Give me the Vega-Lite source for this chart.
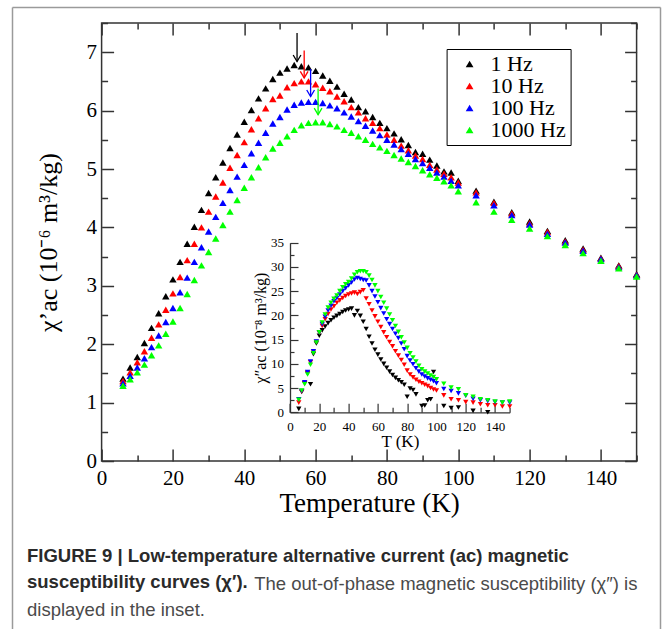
{
  "$schema": "https://vega.github.io/schema/vega-lite/v6.json",
  "width": 535,
  "height": 438,
  "autosize": {"type": "none"},
  "padding": {"left": 101.6, "top": 23, "right": 33.4, "bottom": 168},
  "background": "white",
  "config": {
    "view": {"stroke": "#333", "strokeWidth": 1.5},
    "axis": {"grid": false, "labelFont": "Liberation Serif", "titleFont": "Liberation Serif", "labelColor": "black", "titleColor": "black", "titleFontWeight": "normal", "tickColor": "#333", "domainColor": "#333", "labelOverlap": false, "labelFlush": false, "labelBound": false}
  },
  "title": {
    "text": ["FIGURE 9 | Low-temperature alternative current (ac) magnetic", "susceptibility curves (χ′)."],
    "subtitle": ["\u200b\u2003\u2003\u2003\u2003\u2003\u2003\u2003\u2003\u2003\u2003\u2003\u2003\u00a0The out-of-phase magnetic susceptibility (χ″) is", "displayed in the inset."],
    "orient": "bottom",
    "anchor": "start",
    "frame": "group",
    "dx": -74.6,
    "offset": -98,
    "font": "Liberation Sans",
    "fontSize": 18.5,
    "fontWeight": "bold",
    "color": "#2a2a2a",
    "lineHeight": 25.5,
    "subtitleFont": "Liberation Sans",
    "subtitleFontSize": 18.5,
    "subtitleColor": "#4a4a4a",
    "subtitleLineHeight": 25.5,
    "subtitlePadding": -16
  },
  "datasets": {
    "main": [
      {"T":6,"v":1.41,"f":"1 Hz"},{"T":8,"v":1.60,"f":"1 Hz"},{"T":10,"v":1.78,"f":"1 Hz"},{"T":12,"v":2.02,"f":"1 Hz"},{"T":14,"v":2.28,"f":"1 Hz"},{"T":16,"v":2.53,"f":"1 Hz"},{"T":18,"v":2.82,"f":"1 Hz"},{"T":20,"v":3.11,"f":"1 Hz"},{"T":22,"v":3.41,"f":"1 Hz"},{"T":24,"v":3.72,"f":"1 Hz"},{"T":26,"v":4.01,"f":"1 Hz"},{"T":28,"v":4.30,"f":"1 Hz"},{"T":30,"v":4.59,"f":"1 Hz"},{"T":32,"v":4.86,"f":"1 Hz"},{"T":34,"v":5.11,"f":"1 Hz"},{"T":36,"v":5.36,"f":"1 Hz"},{"T":38,"v":5.59,"f":"1 Hz"},{"T":40,"v":5.81,"f":"1 Hz"},{"T":42,"v":6.01,"f":"1 Hz"},{"T":44,"v":6.21,"f":"1 Hz"},{"T":46,"v":6.38,"f":"1 Hz"},{"T":48,"v":6.54,"f":"1 Hz"},{"T":50,"v":6.65,"f":"1 Hz"},{"T":52,"v":6.72,"f":"1 Hz"},{"T":54,"v":6.78,"f":"1 Hz"},{"T":56,"v":6.76,"f":"1 Hz"},{"T":58,"v":6.74,"f":"1 Hz"},{"T":60,"v":6.68,"f":"1 Hz"},{"T":62,"v":6.60,"f":"1 Hz"},{"T":64,"v":6.51,"f":"1 Hz"},{"T":66,"v":6.41,"f":"1 Hz"},{"T":68,"v":6.29,"f":"1 Hz"},{"T":70,"v":6.19,"f":"1 Hz"},{"T":72,"v":6.06,"f":"1 Hz"},{"T":74,"v":5.99,"f":"1 Hz"},{"T":76,"v":5.89,"f":"1 Hz"},{"T":78,"v":5.79,"f":"1 Hz"},{"T":80,"v":5.70,"f":"1 Hz"},{"T":82,"v":5.61,"f":"1 Hz"},{"T":84,"v":5.51,"f":"1 Hz"},{"T":86,"v":5.41,"f":"1 Hz"},{"T":88,"v":5.29,"f":"1 Hz"},{"T":90,"v":5.26,"f":"1 Hz"},{"T":92,"v":5.16,"f":"1 Hz"},{"T":94,"v":5.06,"f":"1 Hz"},{"T":96,"v":4.96,"f":"1 Hz"},{"T":98,"v":4.94,"f":"1 Hz"},{"T":100,"v":4.80,"f":"1 Hz"},{"T":105,"v":4.63,"f":"1 Hz"},{"T":110,"v":4.44,"f":"1 Hz"},{"T":115,"v":4.26,"f":"1 Hz"},{"T":120,"v":4.10,"f":"1 Hz"},{"T":125,"v":3.94,"f":"1 Hz"},{"T":130,"v":3.78,"f":"1 Hz"},{"T":135,"v":3.64,"f":"1 Hz"},{"T":140,"v":3.48,"f":"1 Hz"},{"T":145,"v":3.35,"f":"1 Hz"},{"T":150,"v":3.20,"f":"1 Hz"},
      {"T":6,"v":1.37,"f":"10 Hz"},{"T":8,"v":1.52,"f":"10 Hz"},{"T":10,"v":1.69,"f":"10 Hz"},{"T":12,"v":1.88,"f":"10 Hz"},{"T":14,"v":2.11,"f":"10 Hz"},{"T":16,"v":2.34,"f":"10 Hz"},{"T":18,"v":2.59,"f":"10 Hz"},{"T":20,"v":2.87,"f":"10 Hz"},{"T":22,"v":3.15,"f":"10 Hz"},{"T":24,"v":3.44,"f":"10 Hz"},{"T":26,"v":3.72,"f":"10 Hz"},{"T":28,"v":4.00,"f":"10 Hz"},{"T":30,"v":4.27,"f":"10 Hz"},{"T":32,"v":4.53,"f":"10 Hz"},{"T":34,"v":4.77,"f":"10 Hz"},{"T":36,"v":5.02,"f":"10 Hz"},{"T":38,"v":5.24,"f":"10 Hz"},{"T":40,"v":5.46,"f":"10 Hz"},{"T":42,"v":5.68,"f":"10 Hz"},{"T":44,"v":5.87,"f":"10 Hz"},{"T":46,"v":6.04,"f":"10 Hz"},{"T":48,"v":6.20,"f":"10 Hz"},{"T":50,"v":6.26,"f":"10 Hz"},{"T":52,"v":6.40,"f":"10 Hz"},{"T":54,"v":6.47,"f":"10 Hz"},{"T":56,"v":6.50,"f":"10 Hz"},{"T":58,"v":6.50,"f":"10 Hz"},{"T":60,"v":6.45,"f":"10 Hz"},{"T":62,"v":6.39,"f":"10 Hz"},{"T":64,"v":6.33,"f":"10 Hz"},{"T":66,"v":6.24,"f":"10 Hz"},{"T":68,"v":6.16,"f":"10 Hz"},{"T":70,"v":6.06,"f":"10 Hz"},{"T":72,"v":5.97,"f":"10 Hz"},{"T":74,"v":5.87,"f":"10 Hz"},{"T":76,"v":5.79,"f":"10 Hz"},{"T":78,"v":5.70,"f":"10 Hz"},{"T":80,"v":5.59,"f":"10 Hz"},{"T":82,"v":5.50,"f":"10 Hz"},{"T":84,"v":5.40,"f":"10 Hz"},{"T":86,"v":5.32,"f":"10 Hz"},{"T":88,"v":5.23,"f":"10 Hz"},{"T":90,"v":5.17,"f":"10 Hz"},{"T":92,"v":5.07,"f":"10 Hz"},{"T":94,"v":4.99,"f":"10 Hz"},{"T":96,"v":4.92,"f":"10 Hz"},{"T":98,"v":4.86,"f":"10 Hz"},{"T":100,"v":4.77,"f":"10 Hz"},{"T":105,"v":4.60,"f":"10 Hz"},{"T":110,"v":4.42,"f":"10 Hz"},{"T":115,"v":4.24,"f":"10 Hz"},{"T":120,"v":4.07,"f":"10 Hz"},{"T":125,"v":3.92,"f":"10 Hz"},{"T":130,"v":3.76,"f":"10 Hz"},{"T":135,"v":3.62,"f":"10 Hz"},{"T":140,"v":3.47,"f":"10 Hz"},{"T":145,"v":3.34,"f":"10 Hz"},{"T":150,"v":3.19,"f":"10 Hz"},
      {"T":6,"v":1.33,"f":"100 Hz"},{"T":8,"v":1.46,"f":"100 Hz"},{"T":10,"v":1.60,"f":"100 Hz"},{"T":12,"v":1.76,"f":"100 Hz"},{"T":14,"v":1.95,"f":"100 Hz"},{"T":16,"v":2.15,"f":"100 Hz"},{"T":18,"v":2.38,"f":"100 Hz"},{"T":20,"v":2.62,"f":"100 Hz"},{"T":22,"v":2.89,"f":"100 Hz"},{"T":24,"v":3.14,"f":"100 Hz"},{"T":26,"v":3.41,"f":"100 Hz"},{"T":28,"v":3.66,"f":"100 Hz"},{"T":30,"v":3.93,"f":"100 Hz"},{"T":32,"v":4.18,"f":"100 Hz"},{"T":34,"v":4.42,"f":"100 Hz"},{"T":36,"v":4.64,"f":"100 Hz"},{"T":38,"v":4.87,"f":"100 Hz"},{"T":40,"v":5.07,"f":"100 Hz"},{"T":42,"v":5.27,"f":"100 Hz"},{"T":44,"v":5.45,"f":"100 Hz"},{"T":46,"v":5.62,"f":"100 Hz"},{"T":48,"v":5.78,"f":"100 Hz"},{"T":50,"v":5.89,"f":"100 Hz"},{"T":52,"v":6.02,"f":"100 Hz"},{"T":54,"v":6.10,"f":"100 Hz"},{"T":56,"v":6.14,"f":"100 Hz"},{"T":58,"v":6.15,"f":"100 Hz"},{"T":60,"v":6.15,"f":"100 Hz"},{"T":62,"v":6.13,"f":"100 Hz"},{"T":64,"v":6.09,"f":"100 Hz"},{"T":66,"v":6.04,"f":"100 Hz"},{"T":68,"v":5.97,"f":"100 Hz"},{"T":70,"v":5.90,"f":"100 Hz"},{"T":72,"v":5.82,"f":"100 Hz"},{"T":74,"v":5.74,"f":"100 Hz"},{"T":76,"v":5.66,"f":"100 Hz"},{"T":78,"v":5.58,"f":"100 Hz"},{"T":80,"v":5.50,"f":"100 Hz"},{"T":82,"v":5.42,"f":"100 Hz"},{"T":84,"v":5.34,"f":"100 Hz"},{"T":86,"v":5.26,"f":"100 Hz"},{"T":88,"v":5.17,"f":"100 Hz"},{"T":90,"v":5.10,"f":"100 Hz"},{"T":92,"v":5.02,"f":"100 Hz"},{"T":94,"v":4.94,"f":"100 Hz"},{"T":96,"v":4.87,"f":"100 Hz"},{"T":98,"v":4.80,"f":"100 Hz"},{"T":100,"v":4.72,"f":"100 Hz"},{"T":105,"v":4.55,"f":"100 Hz"},{"T":110,"v":4.38,"f":"100 Hz"},{"T":115,"v":4.21,"f":"100 Hz"},{"T":120,"v":4.05,"f":"100 Hz"},{"T":125,"v":3.89,"f":"100 Hz"},{"T":130,"v":3.74,"f":"100 Hz"},{"T":135,"v":3.60,"f":"100 Hz"},{"T":140,"v":3.46,"f":"100 Hz"},{"T":145,"v":3.32,"f":"100 Hz"},{"T":150,"v":3.18,"f":"100 Hz"},
      {"T":6,"v":1.29,"f":"1000 Hz"},{"T":8,"v":1.40,"f":"1000 Hz"},{"T":10,"v":1.52,"f":"1000 Hz"},{"T":12,"v":1.65,"f":"1000 Hz"},{"T":14,"v":1.81,"f":"1000 Hz"},{"T":16,"v":1.98,"f":"1000 Hz"},{"T":18,"v":2.18,"f":"1000 Hz"},{"T":20,"v":2.39,"f":"1000 Hz"},{"T":22,"v":2.62,"f":"1000 Hz"},{"T":24,"v":2.86,"f":"1000 Hz"},{"T":26,"v":3.10,"f":"1000 Hz"},{"T":28,"v":3.35,"f":"1000 Hz"},{"T":30,"v":3.58,"f":"1000 Hz"},{"T":32,"v":3.81,"f":"1000 Hz"},{"T":34,"v":4.04,"f":"1000 Hz"},{"T":36,"v":4.27,"f":"1000 Hz"},{"T":38,"v":4.47,"f":"1000 Hz"},{"T":40,"v":4.68,"f":"1000 Hz"},{"T":42,"v":4.86,"f":"1000 Hz"},{"T":44,"v":5.03,"f":"1000 Hz"},{"T":46,"v":5.20,"f":"1000 Hz"},{"T":48,"v":5.35,"f":"1000 Hz"},{"T":50,"v":5.45,"f":"1000 Hz"},{"T":52,"v":5.56,"f":"1000 Hz"},{"T":54,"v":5.67,"f":"1000 Hz"},{"T":56,"v":5.75,"f":"1000 Hz"},{"T":58,"v":5.79,"f":"1000 Hz"},{"T":60,"v":5.80,"f":"1000 Hz"},{"T":62,"v":5.80,"f":"1000 Hz"},{"T":64,"v":5.77,"f":"1000 Hz"},{"T":66,"v":5.73,"f":"1000 Hz"},{"T":68,"v":5.67,"f":"1000 Hz"},{"T":70,"v":5.62,"f":"1000 Hz"},{"T":72,"v":5.56,"f":"1000 Hz"},{"T":74,"v":5.50,"f":"1000 Hz"},{"T":76,"v":5.43,"f":"1000 Hz"},{"T":78,"v":5.37,"f":"1000 Hz"},{"T":80,"v":5.31,"f":"1000 Hz"},{"T":82,"v":5.24,"f":"1000 Hz"},{"T":84,"v":5.18,"f":"1000 Hz"},{"T":86,"v":5.12,"f":"1000 Hz"},{"T":88,"v":5.05,"f":"1000 Hz"},{"T":90,"v":4.98,"f":"1000 Hz"},{"T":92,"v":4.91,"f":"1000 Hz"},{"T":94,"v":4.85,"f":"1000 Hz"},{"T":96,"v":4.79,"f":"1000 Hz"},{"T":98,"v":4.72,"f":"1000 Hz"},{"T":100,"v":4.62,"f":"1000 Hz"},{"T":105,"v":4.43,"f":"1000 Hz"},{"T":110,"v":4.27,"f":"1000 Hz"},{"T":115,"v":4.13,"f":"1000 Hz"},{"T":120,"v":3.98,"f":"1000 Hz"},{"T":125,"v":3.85,"f":"1000 Hz"},{"T":130,"v":3.70,"f":"1000 Hz"},{"T":135,"v":3.56,"f":"1000 Hz"},{"T":140,"v":3.43,"f":"1000 Hz"},{"T":145,"v":3.30,"f":"1000 Hz"},{"T":150,"v":3.16,"f":"1000 Hz"}
    ],
    "inset": [
      {"T":6,"v":0.7,"f":"1 Hz"},{"T":8,"v":4.2,"f":"1 Hz"},{"T":10,"v":6.0,"f":"1 Hz"},{"T":12,"v":8.0,"f":"1 Hz"},{"T":14,"v":5.8,"f":"1 Hz"},{"T":16,"v":12.0,"f":"1 Hz"},{"T":18,"v":14.2,"f":"1 Hz"},{"T":20,"v":15.8,"f":"1 Hz"},{"T":22,"v":16.9,"f":"1 Hz"},{"T":24,"v":17.7,"f":"1 Hz"},{"T":26,"v":18.4,"f":"1 Hz"},{"T":28,"v":19.0,"f":"1 Hz"},{"T":30,"v":19.5,"f":"1 Hz"},{"T":32,"v":19.9,"f":"1 Hz"},{"T":34,"v":20.3,"f":"1 Hz"},{"T":36,"v":20.7,"f":"1 Hz"},{"T":38,"v":21.0,"f":"1 Hz"},{"T":40,"v":21.2,"f":"1 Hz"},{"T":42,"v":21.4,"f":"1 Hz"},{"T":44,"v":20.0,"f":"1 Hz"},{"T":46,"v":20.9,"f":"1 Hz"},{"T":48,"v":19.9,"f":"1 Hz"},{"T":50,"v":18.7,"f":"1 Hz"},{"T":52,"v":17.2,"f":"1 Hz"},{"T":54,"v":15.6,"f":"1 Hz"},{"T":56,"v":14.2,"f":"1 Hz"},{"T":58,"v":12.9,"f":"1 Hz"},{"T":60,"v":11.9,"f":"1 Hz"},{"T":62,"v":10.9,"f":"1 Hz"},{"T":64,"v":10.0,"f":"1 Hz"},{"T":66,"v":9.2,"f":"1 Hz"},{"T":68,"v":8.4,"f":"1 Hz"},{"T":70,"v":7.7,"f":"1 Hz"},{"T":72,"v":7.1,"f":"1 Hz"},{"T":74,"v":6.6,"f":"1 Hz"},{"T":76,"v":6.2,"f":"1 Hz"},{"T":78,"v":5.7,"f":"1 Hz"},{"T":80,"v":3.2,"f":"1 Hz"},{"T":82,"v":4.9,"f":"1 Hz"},{"T":84,"v":4.6,"f":"1 Hz"},{"T":86,"v":3.7,"f":"1 Hz"},{"T":90,"v":1.3,"f":"1 Hz"},{"T":92,"v":1.4,"f":"1 Hz"},{"T":94,"v":2.5,"f":"1 Hz"},{"T":96,"v":2.7,"f":"1 Hz"},{"T":98,"v":8.3,"f":"1 Hz"},{"T":105,"v":1.3,"f":"1 Hz"},{"T":110,"v":0.9,"f":"1 Hz"},{"T":115,"v":1.0,"f":"1 Hz"},{"T":125,"v":0.3,"f":"1 Hz"},{"T":135,"v":0.0,"f":"1 Hz"},
      {"T":6,"v":2.0,"f":"10 Hz"},{"T":8,"v":4.3,"f":"10 Hz"},{"T":10,"v":6.1,"f":"10 Hz"},{"T":12,"v":8.2,"f":"10 Hz"},{"T":14,"v":10.3,"f":"10 Hz"},{"T":16,"v":12.5,"f":"10 Hz"},{"T":18,"v":14.5,"f":"10 Hz"},{"T":20,"v":16.4,"f":"10 Hz"},{"T":22,"v":17.8,"f":"10 Hz"},{"T":24,"v":19.2,"f":"10 Hz"},{"T":26,"v":20.3,"f":"10 Hz"},{"T":28,"v":21.2,"f":"10 Hz"},{"T":30,"v":21.9,"f":"10 Hz"},{"T":32,"v":22.6,"f":"10 Hz"},{"T":34,"v":23.1,"f":"10 Hz"},{"T":36,"v":23.6,"f":"10 Hz"},{"T":38,"v":24.0,"f":"10 Hz"},{"T":40,"v":24.3,"f":"10 Hz"},{"T":42,"v":24.5,"f":"10 Hz"},{"T":44,"v":24.7,"f":"10 Hz"},{"T":46,"v":24.4,"f":"10 Hz"},{"T":48,"v":24.8,"f":"10 Hz"},{"T":50,"v":25.2,"f":"10 Hz"},{"T":52,"v":23.5,"f":"10 Hz"},{"T":54,"v":22.3,"f":"10 Hz"},{"T":56,"v":21.0,"f":"10 Hz"},{"T":58,"v":19.8,"f":"10 Hz"},{"T":60,"v":18.7,"f":"10 Hz"},{"T":62,"v":17.6,"f":"10 Hz"},{"T":64,"v":16.5,"f":"10 Hz"},{"T":66,"v":15.5,"f":"10 Hz"},{"T":68,"v":14.5,"f":"10 Hz"},{"T":70,"v":13.6,"f":"10 Hz"},{"T":72,"v":12.6,"f":"10 Hz"},{"T":74,"v":11.7,"f":"10 Hz"},{"T":76,"v":10.8,"f":"10 Hz"},{"T":78,"v":9.8,"f":"10 Hz"},{"T":80,"v":8.6,"f":"10 Hz"},{"T":82,"v":7.8,"f":"10 Hz"},{"T":84,"v":7.2,"f":"10 Hz"},{"T":86,"v":6.7,"f":"10 Hz"},{"T":88,"v":6.3,"f":"10 Hz"},{"T":90,"v":6.0,"f":"10 Hz"},{"T":92,"v":5.7,"f":"10 Hz"},{"T":94,"v":5.4,"f":"10 Hz"},{"T":96,"v":5.0,"f":"10 Hz"},{"T":98,"v":4.7,"f":"10 Hz"},{"T":100,"v":4.5,"f":"10 Hz"},{"T":105,"v":3.5,"f":"10 Hz"},{"T":110,"v":2.7,"f":"10 Hz"},{"T":115,"v":2.5,"f":"10 Hz"},{"T":120,"v":2.1,"f":"10 Hz"},{"T":125,"v":2.0,"f":"10 Hz"},{"T":130,"v":1.65,"f":"10 Hz"},{"T":135,"v":1.45,"f":"10 Hz"},{"T":140,"v":1.45,"f":"10 Hz"},{"T":145,"v":1.2,"f":"10 Hz"},{"T":150,"v":1.2,"f":"10 Hz"},
      {"T":6,"v":2.7,"f":"100 Hz"},{"T":8,"v":4.4,"f":"100 Hz"},{"T":10,"v":6.2,"f":"100 Hz"},{"T":12,"v":8.3,"f":"100 Hz"},{"T":14,"v":10.5,"f":"100 Hz"},{"T":16,"v":12.6,"f":"100 Hz"},{"T":18,"v":14.6,"f":"100 Hz"},{"T":20,"v":16.5,"f":"100 Hz"},{"T":22,"v":18.2,"f":"100 Hz"},{"T":24,"v":19.7,"f":"100 Hz"},{"T":26,"v":21.0,"f":"100 Hz"},{"T":28,"v":22.0,"f":"100 Hz"},{"T":30,"v":22.9,"f":"100 Hz"},{"T":32,"v":23.6,"f":"100 Hz"},{"T":34,"v":24.3,"f":"100 Hz"},{"T":36,"v":25.0,"f":"100 Hz"},{"T":38,"v":25.6,"f":"100 Hz"},{"T":40,"v":26.2,"f":"100 Hz"},{"T":42,"v":26.8,"f":"100 Hz"},{"T":44,"v":27.4,"f":"100 Hz"},{"T":46,"v":27.7,"f":"100 Hz"},{"T":48,"v":27.5,"f":"100 Hz"},{"T":50,"v":27.3,"f":"100 Hz"},{"T":52,"v":27.2,"f":"100 Hz"},{"T":54,"v":26.2,"f":"100 Hz"},{"T":56,"v":25.0,"f":"100 Hz"},{"T":58,"v":23.9,"f":"100 Hz"},{"T":60,"v":22.7,"f":"100 Hz"},{"T":62,"v":21.5,"f":"100 Hz"},{"T":64,"v":20.4,"f":"100 Hz"},{"T":66,"v":19.2,"f":"100 Hz"},{"T":68,"v":18.2,"f":"100 Hz"},{"T":70,"v":17.2,"f":"100 Hz"},{"T":72,"v":16.2,"f":"100 Hz"},{"T":74,"v":15.3,"f":"100 Hz"},{"T":76,"v":14.2,"f":"100 Hz"},{"T":78,"v":13.0,"f":"100 Hz"},{"T":80,"v":11.6,"f":"100 Hz"},{"T":82,"v":10.7,"f":"100 Hz"},{"T":84,"v":9.9,"f":"100 Hz"},{"T":86,"v":9.1,"f":"100 Hz"},{"T":88,"v":8.4,"f":"100 Hz"},{"T":90,"v":7.8,"f":"100 Hz"},{"T":92,"v":7.4,"f":"100 Hz"},{"T":94,"v":7.0,"f":"100 Hz"},{"T":96,"v":6.7,"f":"100 Hz"},{"T":98,"v":6.4,"f":"100 Hz"},{"T":100,"v":6.0,"f":"100 Hz"},{"T":105,"v":4.8,"f":"100 Hz"},{"T":110,"v":4.4,"f":"100 Hz"},{"T":115,"v":3.9,"f":"100 Hz"},{"T":120,"v":3.4,"f":"100 Hz"},{"T":125,"v":2.8,"f":"100 Hz"},{"T":130,"v":2.5,"f":"100 Hz"},{"T":135,"v":2.3,"f":"100 Hz"},{"T":140,"v":2.1,"f":"100 Hz"},{"T":145,"v":2.0,"f":"100 Hz"},{"T":150,"v":2.0,"f":"100 Hz"},
      {"T":6,"v":2.6,"f":"1000 Hz"},{"T":8,"v":4.5,"f":"1000 Hz"},{"T":10,"v":5.8,"f":"1000 Hz"},{"T":12,"v":7.8,"f":"1000 Hz"},{"T":14,"v":9.8,"f":"1000 Hz"},{"T":16,"v":12.2,"f":"1000 Hz"},{"T":18,"v":14.4,"f":"1000 Hz"},{"T":20,"v":16.5,"f":"1000 Hz"},{"T":22,"v":18.5,"f":"1000 Hz"},{"T":24,"v":20.2,"f":"1000 Hz"},{"T":26,"v":21.6,"f":"1000 Hz"},{"T":28,"v":22.6,"f":"1000 Hz"},{"T":30,"v":23.4,"f":"1000 Hz"},{"T":32,"v":24.1,"f":"1000 Hz"},{"T":34,"v":25.0,"f":"1000 Hz"},{"T":36,"v":25.8,"f":"1000 Hz"},{"T":38,"v":26.4,"f":"1000 Hz"},{"T":40,"v":26.9,"f":"1000 Hz"},{"T":42,"v":27.6,"f":"1000 Hz"},{"T":44,"v":28.4,"f":"1000 Hz"},{"T":46,"v":28.9,"f":"1000 Hz"},{"T":48,"v":29.1,"f":"1000 Hz"},{"T":50,"v":29.1,"f":"1000 Hz"},{"T":52,"v":28.9,"f":"1000 Hz"},{"T":54,"v":28.2,"f":"1000 Hz"},{"T":56,"v":27.3,"f":"1000 Hz"},{"T":58,"v":26.2,"f":"1000 Hz"},{"T":60,"v":25.0,"f":"1000 Hz"},{"T":62,"v":23.8,"f":"1000 Hz"},{"T":64,"v":22.6,"f":"1000 Hz"},{"T":66,"v":21.4,"f":"1000 Hz"},{"T":68,"v":20.2,"f":"1000 Hz"},{"T":70,"v":19.0,"f":"1000 Hz"},{"T":72,"v":17.8,"f":"1000 Hz"},{"T":74,"v":16.6,"f":"1000 Hz"},{"T":76,"v":15.5,"f":"1000 Hz"},{"T":78,"v":14.4,"f":"1000 Hz"},{"T":80,"v":13.3,"f":"1000 Hz"},{"T":82,"v":12.2,"f":"1000 Hz"},{"T":84,"v":11.3,"f":"1000 Hz"},{"T":86,"v":10.5,"f":"1000 Hz"},{"T":88,"v":9.6,"f":"1000 Hz"},{"T":90,"v":8.9,"f":"1000 Hz"},{"T":92,"v":8.4,"f":"1000 Hz"},{"T":94,"v":8.0,"f":"1000 Hz"},{"T":96,"v":7.6,"f":"1000 Hz"},{"T":98,"v":7.3,"f":"1000 Hz"},{"T":100,"v":6.8,"f":"1000 Hz"},{"T":105,"v":5.9,"f":"1000 Hz"},{"T":110,"v":5.1,"f":"1000 Hz"},{"T":115,"v":4.75,"f":"1000 Hz"},{"T":120,"v":3.5,"f":"1000 Hz"},{"T":125,"v":3.2,"f":"1000 Hz"},{"T":130,"v":2.7,"f":"1000 Hz"},{"T":135,"v":2.5,"f":"1000 Hz"},{"T":140,"v":2.2,"f":"1000 Hz"},{"T":145,"v":2.0,"f":"1000 Hz"},{"T":150,"v":2.2,"f":"1000 Hz"}
    ],
    "arrows": [
      {"T":54.8,"top":7.33,"tip":6.84,"f":"1 Hz"},
      {"T":56.8,"top":7.03,"tip":6.56,"f":"10 Hz"},
      {"T":58.6,"top":6.71,"tip":6.24,"f":"100 Hz"},
      {"T":60.7,"top":6.38,"tip":5.93,"f":"1000 Hz"}
    ]
  },
  "layer": [
    {
      "data": {"name": "main"},
      "mark": {"type": "point", "shape": "triangle-up", "filled": true, "size": 55, "opacity": 1},
      "encoding": {
        "x": {"field": "T", "type": "quantitative", "scale": {"domain": [0, 150], "nice": false, "zero": false},
          "axis": {"orient": "bottom", "values": [0,10,20,30,40,50,60,70,80,90,100,110,120,130,140,150],
            "labelExpr": "datum.value % 20 === 0 && datum.value < 150 ? format(datum.value, 'd') : ''",
            "tickSize": {"condition": {"test": "datum.value % 20 === 0", "value": -12}, "value": -6},
            "tickWidth": 1.5, "labelPadding": 18, "labelFontSize": 21, "domain": false,
            "title": "Temperature (K)", "titleFontSize": 27, "titlePadding": -4}},
        "y": {"field": "v", "type": "quantitative", "scale": {"domain": [0, 7.5], "nice": false, "zero": false},
          "axis": {"orient": "left", "values": [0,0.5,1,1.5,2,2.5,3,3.5,4,4.5,5,5.5,6,6.5,7,7.5],
            "labelExpr": "datum.value % 1 === 0 ? format(datum.value, 'd') : ''",
            "tickSize": {"condition": {"test": "datum.value % 1 === 0", "value": -12}, "value": -6},
            "tickWidth": 1.5, "labelPadding": 17, "labelFontSize": 21, "domain": false,
            "title": "χ’ac (10⁻⁶ m³/kg)", "titleFontSize": 26, "titlePadding": 25}},
        "color": {"field": "f", "type": "nominal",
          "scale": {"domain": ["1 Hz", "10 Hz", "100 Hz", "1000 Hz"], "range": ["#000000", "#ff0000", "#0000ff", "#00ff00"]},
          "legend": {"orient": "none", "legendX": 345, "legendY": 26, "title": null, "strokeColor": "black", "fillColor": "white",
            "padding": 4, "labelFont": "Liberation Serif", "labelFontSize": 22, "labelColor": "black", "symbolType": "triangle-up",
            "symbolSize": 60, "symbolOffset": 8, "labelOffset": 10, "rowPadding": -0.5, "symbolStrokeWidth": 0}}
      }
    },
    {
      "data": {"name": "arrows"},
      "mark": {"type": "rule", "strokeWidth": 1.3},
      "encoding": {
        "x": {"field": "T", "type": "quantitative", "scale": {"domain": [0, 150], "nice": false, "zero": false},
          "axis": {"orient": "top", "values": [0,10,20,30,40,50,60,70,80,90,100,110,120,130,140,150], "labels": false, "domain": false,
            "tickSize": {"condition": {"test": "datum.value % 20 === 0", "value": -12}, "value": -6}, "tickWidth": 1.5, "title": null}},
        "y": {"field": "top", "type": "quantitative", "scale": {"domain": [0, 7.5], "nice": false, "zero": false},
          "axis": {"orient": "right", "values": [0,0.5,1,1.5,2,2.5,3,3.5,4,4.5,5,5.5,6,6.5,7,7.5], "labels": false, "domain": false,
            "tickSize": {"condition": {"test": "datum.value % 1 === 0", "value": -12}, "value": -6}, "tickWidth": 1.5, "title": null}},
        "y2": {"field": "tip"},
        "color": {"field": "f", "type": "nominal", "legend": null}
      }
    },
    {
      "data": {"name": "arrows"},
      "mark": {"type": "point", "shape": "M-1,-1.7L0,0L1,-1.7", "filled": false, "size": 60, "strokeWidth": 1.3, "opacity": 1},
      "encoding": {
        "x": {"field": "T", "type": "quantitative", "scale": {"domain": [0, 150], "nice": false, "zero": false}, "axis": null},
        "y": {"field": "tip", "type": "quantitative", "scale": {"domain": [0, 7.5], "nice": false, "zero": false}, "axis": null},
        "color": {"field": "f", "type": "nominal", "legend": null}
      }
    },
    {
      "data": {"name": "inset"},
      "mark": {"type": "point", "shape": "triangle-down", "filled": true, "size": 28, "opacity": 1},
      "encoding": {
        "x": {"field": "T", "type": "quantitative", "scale": {"domain": [0, 150], "nice": false, "zero": false, "range": [188.4, 408.1]},
          "axis": {"orient": "bottom", "offset": -48.7, "values": [0,10,20,30,40,50,60,70,80,90,100,110,120,130,140,150],
            "labelExpr": "datum.value % 20 === 0 && datum.value < 150 ? format(datum.value, 'd') : ''",
            "tickSize": {"condition": {"test": "datum.value % 20 === 0", "value": -9}, "value": -5},
            "tickWidth": 1.2, "labelPadding": 17, "labelFontSize": 13, "domain": true, "domainWidth": 1.3,
            "title": "T (K)", "titleFontSize": 17, "titlePadding": -4}},
        "y": {"field": "v", "type": "quantitative", "scale": {"domain": [0, 35], "nice": false, "zero": false, "range": [389.3, 219.7]},
          "axis": {"orient": "left", "offset": -188.4, "values": [0,2.5,5,7.5,10,12.5,15,17.5,20,22.5,25,27.5,30,32.5,35],
            "labelExpr": "datum.value % 5 === 0 ? format(datum.value, 'd') : ''",
            "tickSize": {"condition": {"test": "datum.value % 5 === 0", "value": -8}, "value": -4},
            "tickWidth": 1.2, "labelPadding": 14.5, "labelFontSize": 13, "domain": true, "domainWidth": 1.3,
            "title": "χ″ac (10⁻⁸ m³/kg)", "titleFontSize": 16, "titlePadding": 2}},
        "color": {"field": "f", "type": "nominal", "legend": null}
      }
    },
    {
      "data": {"name": "arrows"},
      "mark": {"type": "point", "opacity": 0},
      "encoding": {
        "x": {"field": "T", "type": "quantitative", "scale": {"domain": [0, 150], "nice": false, "zero": false, "range": [-89.6, 558.4]},
          "axis": {"orient": "top", "offset": 16, "ticks": false, "labels": false, "domain": true, "domainColor": "#9a9a9a", "domainWidth": 1.5, "title": null}},
        "y": {"field": "tip", "type": "quantitative", "scale": {"domain": [0, 7.5], "nice": false, "zero": false, "range": [606, -16]},
          "axis": {"orient": "left", "offset": 89.6, "ticks": false, "labels": false, "domain": true, "domainColor": "#9a9a9a", "domainWidth": 1.5, "title": null}}
      }
    },
    {
      "data": {"name": "arrows"},
      "mark": {"type": "point", "opacity": 0},
      "encoding": {
        "x": {"field": "T", "type": "quantitative", "scale": {"domain": [0, 150], "nice": false, "zero": false}, "axis": null},
        "y": {"field": "tip", "type": "quantitative", "scale": {"domain": [0, 7.5], "nice": false, "zero": false, "range": [606, -16]},
          "axis": {"orient": "right", "offset": 23.4, "ticks": false, "labels": false, "domain": true, "domainColor": "#9a9a9a", "domainWidth": 1.5, "title": null}}
      }
    }
  ],
  "resolve": {
    "scale": {"x": "independent", "y": "independent"},
    "axis": {"x": "independent", "y": "independent"}
  }
}
